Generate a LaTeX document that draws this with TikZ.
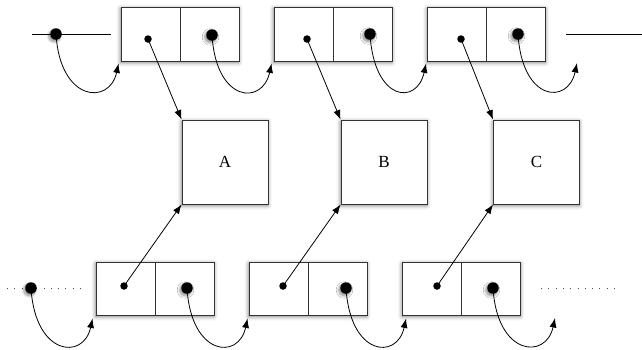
\documentclass[tikz,border=0pt]{standalone}
\usepackage{fontspec}
\setmainfont{Liberation Serif}
\usetikzlibrary{arrows.meta,shadows.blur}

\tikzset{
  soft/.style={blur shadow={shadow xshift=-0.3pt, shadow yshift=-1.5pt,
                            shadow blur radius=4pt, shadow opacity=55}},
  dotsoft/.style={blur shadow={shadow xshift=-1.5pt, shadow yshift=-2pt,
                               shadow blur radius=2.5pt, shadow opacity=45,
                               shadow blur steps=8}},
  record/.style={draw=black!80, line width=0.9pt, fill=white, soft,
                 minimum width=118pt, minimum height=54pt, inner sep=0pt},
  item/.style={draw=black!80, line width=0.9pt, fill=white, soft,
               minimum width=86pt, minimum height=84pt, inner sep=0pt,
               font=\fontsize{17}{20}\selectfont},
  bigdot/.style={circle, fill=black, minimum size=11.5pt, inner sep=0pt, dotsoft},
  smalldot/.style={circle, fill=black, minimum size=7.5pt, inner sep=0pt},
  link/.style={line width=0.8pt, -{Latex[length=9.5pt,width=7pt]}},
  curl/.style={line width=0.8pt, -{Latex[length=9.5pt,width=7pt]}},
  rail/.style={line width=0.8pt},
  dots/.style={line width=1pt, black!70, dash pattern=on 1pt off 6.3pt},
}

\begin{document}
\begin{tikzpicture}[x=1pt, y=-1pt]
\useasboundingbox (0,0) rectangle (642,349);

% elements
\node[item] (A) at (225,162) {A};
\node[item] (B) at (384,162) {B};
\node[item] (C) at (536.5,162) {C};

% upper list
\coordinate (ul0) at (32,34);
\coordinate (ul1) at (111,34);
\coordinate (ur0) at (566,34);
\coordinate (ur1) at (642,34);
\coordinate (uend) at (577,63);
\draw[rail] (ul0) -- (ul1);
\draw[rail] (ur0) -- (ur1);

\node[record] (t1) at (180,34) {};
\node[record] (t2) at (333,34) {};
\node[record] (t3) at (486.5,34) {};
\foreach \r in {t1,t2,t3}
  \draw[draw=black!80, line width=0.9pt] (\r.north) -- (\r.south);

\node[bigdot] (u0) at (56,34) {};
\node[smalldot] (t1d) at (148,39) {};
\node[bigdot] (t1n) at (212,35) {};
\node[smalldot] (t2d) at (307,39) {};
\node[bigdot] (t2n) at (370,34) {};
\node[smalldot] (t3d) at (461,39) {};
\node[bigdot] (t3n) at (518,34) {};

\draw[link] (t1d.center) -- (A.north west);
\draw[link] (t2d.center) -- (B.north west);
\draw[link] (t3d.center) -- (C.north west);

\draw[curl] (u0.center) .. controls +(4,68) and +(-9,42) .. ([shift={(-2,2)}]t1.south west);
\draw[curl] (t1n.center) .. controls +(4,68) and +(-9,42) .. ([shift={(-2,2)}]t2.south west);
\draw[curl] (t2n.center) .. controls +(4,68) and +(-9,42) .. ([shift={(-1,2)}]t3.south west);
\draw[curl] (t3n.center) .. controls +(4,68) and +(-9,42) .. (uend);

% lower list
\coordinate (ll0) at (7,288);
\coordinate (ll1) at (82,288);
\coordinate (lr0) at (541,288);
\coordinate (lr1) at (617,288);
\coordinate (lend) at (555,318);
\draw[dots] (ll0) -- (ll1);
\draw[dots] (lr0) -- (lr1);

\node[record, minimum height=53pt] (b1) at (155,288.5) {};
\node[record, minimum height=53pt] (b2) at (308,288.5) {};
\node[record, minimum height=53pt] (b3) at (461.5,288.5) {};
\foreach \r in {b1,b2,b3}
  \draw[draw=black!80, line width=0.9pt] (\r.north) -- (\r.south);

\node[bigdot] (l0) at (31,288) {};
\node[smalldot] (b1d) at (124,286) {};
\node[bigdot] (b1n) at (187,288) {};
\node[smalldot] (b2d) at (283,286) {};
\node[bigdot] (b2n) at (346,288) {};
\node[smalldot] (b3d) at (437,286) {};
\node[bigdot] (b3n) at (493,288) {};

\draw[link] (b1d.center) -- (A.south west);
\draw[link] (b2d.center) -- (B.south west);
\draw[link] (b3d.center) -- (C.south west);

\draw[curl] (l0.center) .. controls +(4,68) and +(-9,42) .. ([shift={(-3,3)}]b1.south west);
\draw[curl] (b1n.center) .. controls +(4,68) and +(-9,42) .. ([shift={(-1,3)}]b2.south west);
\draw[curl] (b2n.center) .. controls +(4,68) and +(-9,42) .. ([shift={(4,3)}]b3.south west);
\draw[curl] (b3n.center) .. controls +(4,68) and +(-9,42) .. (lend);
\end{tikzpicture}
\end{document}
